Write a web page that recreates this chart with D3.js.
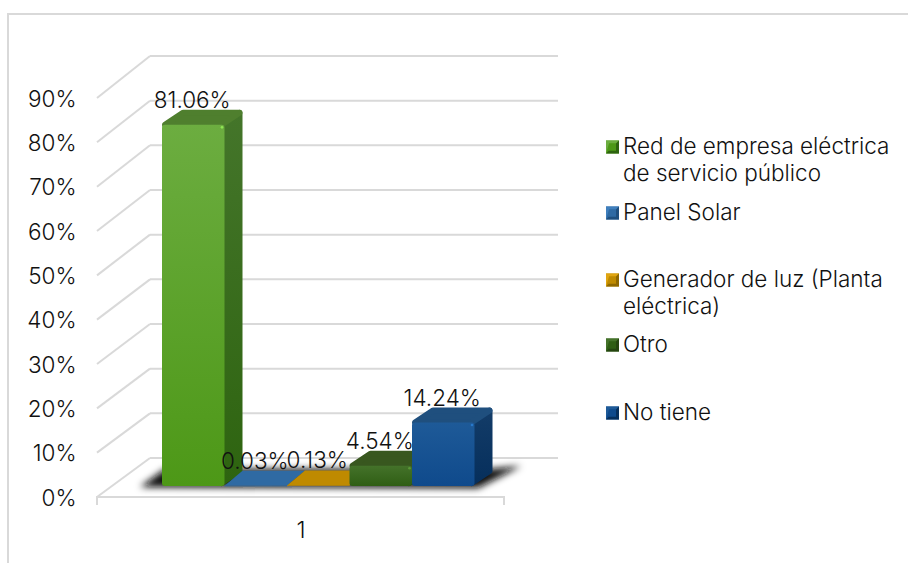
<!DOCTYPE html>
<html>
<head>
<meta charset="utf-8">
<script src="https://cdn.jsdelivr.net/npm/d3@7"></script>
<style>
  html, body { margin: 0; padding: 0; background: #fff; }
  text { font-family: "Inter", "Lato", sans-serif; font-weight: 300; fill: #111; }
</style>
</head>
<body>
<div id="chart"></div>
<script>
const seriesNames = ["Red de empresa eléctrica de servicio público", "Panel Solar", "Generador de luz (Planta eléctrica)", "Otro", "No tiene"];
const seriesValues = [81.06, 0.03, 0.13, 4.54, 14.24];
const valueLabels = ["81.06%", "0.03%", "0.13%", "4.54%", "14.24%"];
const yTicks = [0, 10, 20, 30, 40, 50, 60, 70, 80, 90];
const category = "1";
const legendLines = [
  ["Red de empresa eléctrica", "de servicio público"],
  ["Panel Solar"],
  ["Generador de luz (Planta", "eléctrica)"],
  ["Otro"],
  ["No tiene"]
];

// front, top, side shades for each series
const shades = [
  { hi: "#6cad40", lo: "#4d9817", top: "#4f7f2e", sideHi: "#44752a", sideLo: "#2e6410" },
  { hi: "#3f7fbd", lo: "#2f6aa3", top: "#2f6aa3", sideHi: "#285a8c", sideLo: "#1f4f7e" },
  { hi: "#e0a511", lo: "#bf8a00", top: "#bf8a00", sideHi: "#a87a00", sideLo: "#8f6800" },
  { hi: "#44722a", lo: "#2f5e14", top: "#38571f", sideHi: "#31511a", sideLo: "#254510" },
  { hi: "#1e5a98", lo: "#0f4a8c", top: "#1f4f7e", sideHi: "#133c68", sideLo: "#062f5c" }
];

const width = 908, height = 563;
const svg = d3.select("#chart").append("svg")
  .attr("width", width)
  .attr("height", height)
  .style("display", "block");
const defs = svg.append("defs");

// frame of the chart area
svg.append("path")
  .attr("d", "M8,563V14H908")
  .attr("fill", "none")
  .attr("stroke", "#d9d9d9")
  .attr("stroke-width", 2);

// scales: front edge of the wall, back edge of the wall, and the bars
const y = d3.scaleLinear().domain([0, 90]).range([497, 98]);
const yBack = d3.scaleLinear().domain([0, 90]).range([458, 56]);
const yBar = d3.scaleLinear().domain([0, 90]).range([486, 85]);
const x = d3.scaleBand().domain(d3.range(seriesValues.length)).range([162, 474.5]);
const backX = 150;
const barDx = 18, barDy = -15;     // bar depth

// wall grid
const grid = svg.append("g")
  .attr("fill", "none")
  .attr("stroke", "#d9d9d9")
  .attr("stroke-width", 2);
yTicks.forEach(t => {
  grid.append("line")
    .attr("x1", 97).attr("y1", y(t))
    .attr("x2", backX).attr("y2", yBack(t));
  grid.append("line")
    .attr("x1", backX).attr("y1", yBack(t))
    .attr("x2", 558).attr("y2", yBack(t));
});
grid.append("path").attr("d", `M97,505V${y(0)}H504V505`);

// y axis, domain and tick lines are drawn by the grid above
const yAxis = d3.axisLeft(y).tickValues(yTicks).tickSize(0).tickPadding(0).tickFormat(d => d + "%");
const yG = svg.append("g").attr("transform", "translate(76.5,1)").call(yAxis);
yG.select(".domain").remove();
yG.selectAll("text")
  .style("font-family", "Inter, sans-serif")
  .style("font-size", "22.5px")
  .attr("fill", "#111");

// x axis label
svg.append("text")
  .attr("x", 301).attr("y", 538)
  .attr("text-anchor", "middle")
  .style("font-size", "23px")
  .text(category);

// soft shadow on the floor
const blur = defs.append("filter").attr("id", "soft")
  .attr("x", "-20%").attr("y", "-60%").attr("width", "140%").attr("height", "220%");
blur.append("feGaussianBlur").attr("stdDeviation", 3.5);
const baseY = yBar(0);
svg.append("path")
  .attr("d", `M140,${baseY + 1}L165,${baseY - 17}H490L521,${baseY - 20}L478,${baseY + 2}Z`)
  .attr("fill", "#111")
  .attr("filter", "url(#soft)");

// gradients
shades.forEach((s, i) => {
  const f = defs.append("linearGradient").attr("id", `front${i}`).attr("x1", 0).attr("y1", 0).attr("x2", 0).attr("y2", 1);
  f.append("stop").attr("offset", 0).attr("stop-color", s.hi);
  f.append("stop").attr("offset", 1).attr("stop-color", s.lo);
  const g = defs.append("linearGradient").attr("id", `side${i}`).attr("x1", 0).attr("y1", 0).attr("x2", 0).attr("y2", 1);
  g.append("stop").attr("offset", 0).attr("stop-color", s.sideHi);
  g.append("stop").attr("offset", 1).attr("stop-color", s.sideLo);
});

// bars, later series overlap earlier ones
const bars = svg.append("g").selectAll("g")
  .data(seriesValues)
  .enter()
  .append("g");

bars.each(function(v, i) {
  const g = d3.select(this);
  const x0 = x(i), x1 = x(i) + x.bandwidth();
  const yTop = yBar(v);
  const h = baseY - yTop;
  const r = 3;   // rounded edges, drawn as a round stroke around an inset face
  if (h < 3) {
    g.append("path")
      .attr("d", `M${x0},${yTop}L${x0 + barDx},${yTop + barDy}H${x1 + barDx}L${x1},${yTop}Z`)
      .attr("fill", shades[i].top);
    g.append("rect").attr("x", x0).attr("y", yTop).attr("width", x.bandwidth()).attr("height", Math.max(h, 0.5)).attr("fill", shades[i].lo);
    return;
  }
  // side face
  g.append("path")
    .attr("d", `M${x1 - r},${yTop + r}L${x1 + barDx - r},${yTop + barDy + r}V${baseY + barDy}L${x1 - r},${baseY - r}Z`)
    .attr("fill", `url(#side${i})`)
    .attr("stroke", `url(#side${i})`)
    .attr("stroke-width", 2 * r)
    .attr("stroke-linejoin", "round");
  // top face
  g.append("path")
    .attr("d", `M${x0 + r},${yTop}L${x0 + barDx + r},${yTop + barDy + r}H${x1 + barDx - r}L${x1 - r},${yTop}Z`)
    .attr("fill", shades[i].top)
    .attr("stroke", shades[i].top)
    .attr("stroke-width", 2 * r)
    .attr("stroke-linejoin", "round");
  // front face
  g.append("rect")
    .attr("x", x0).attr("y", yTop)
    .attr("width", x.bandwidth()).attr("height", h)
    .attr("rx", 3)
    .attr("fill", `url(#front${i})`);
  // highlight on the bevel
  g.append("circle")
    .attr("cx", x1 - 2.5).attr("cy", yTop + 2.5).attr("r", 1.3)
    .attr("fill", d3.color(shades[i].hi).brighter(0.8));
});

// value labels
svg.append("g").selectAll("text")
  .data(seriesValues)
  .enter()
  .append("text")
  .attr("x", (d, i) => x(i) + x.bandwidth() / 2 - 1)
  .attr("y", d => yBar(d) + barDy - 2)
  .attr("text-anchor", "middle")
  .style("font-size", "22.5px")
  .text((d, i) => valueLabels[i]);

// legend
const legendY = [147, 213, 280, 345, 413];
const legend = svg.append("g").selectAll("g")
  .data(seriesNames)
  .enter()
  .append("g")
  .attr("transform", (d, i) => `translate(606,${legendY[i]})`);

legend.each(function(d, i) {
  const g = d3.select(this);
  const s = 6.5, b = 3;
  g.append("rect").attr("x", 0).attr("y", -s).attr("width", 2 * s).attr("height", 2 * s).attr("fill", shades[i].lo);
  g.append("path").attr("d", `M0,${-s}H${2 * s}L${2 * s - b},${-s + b}H${b}L0,${s}Z`).attr("fill", shades[i].hi);
  g.append("path").attr("d", `M${2 * s},${-s}V${s}H0L${b},${s - b}H${2 * s - b}V${-s + b}Z`).attr("fill", shades[i].sideLo);
  g.append("rect").attr("x", b).attr("y", -s + b).attr("width", 2 * s - 2 * b).attr("height", 2 * s - 2 * b).attr("fill", shades[i].lo);
  g.selectAll("text")
    .data(legendLines[i])
    .enter()
    .append("text")
    .attr("x", 17)
    .attr("y", (t, k) => 7 + k * 26.5)
    .style("font-size", "22.5px")
    .text(t => t);
});
</script>
</body>
</html>
